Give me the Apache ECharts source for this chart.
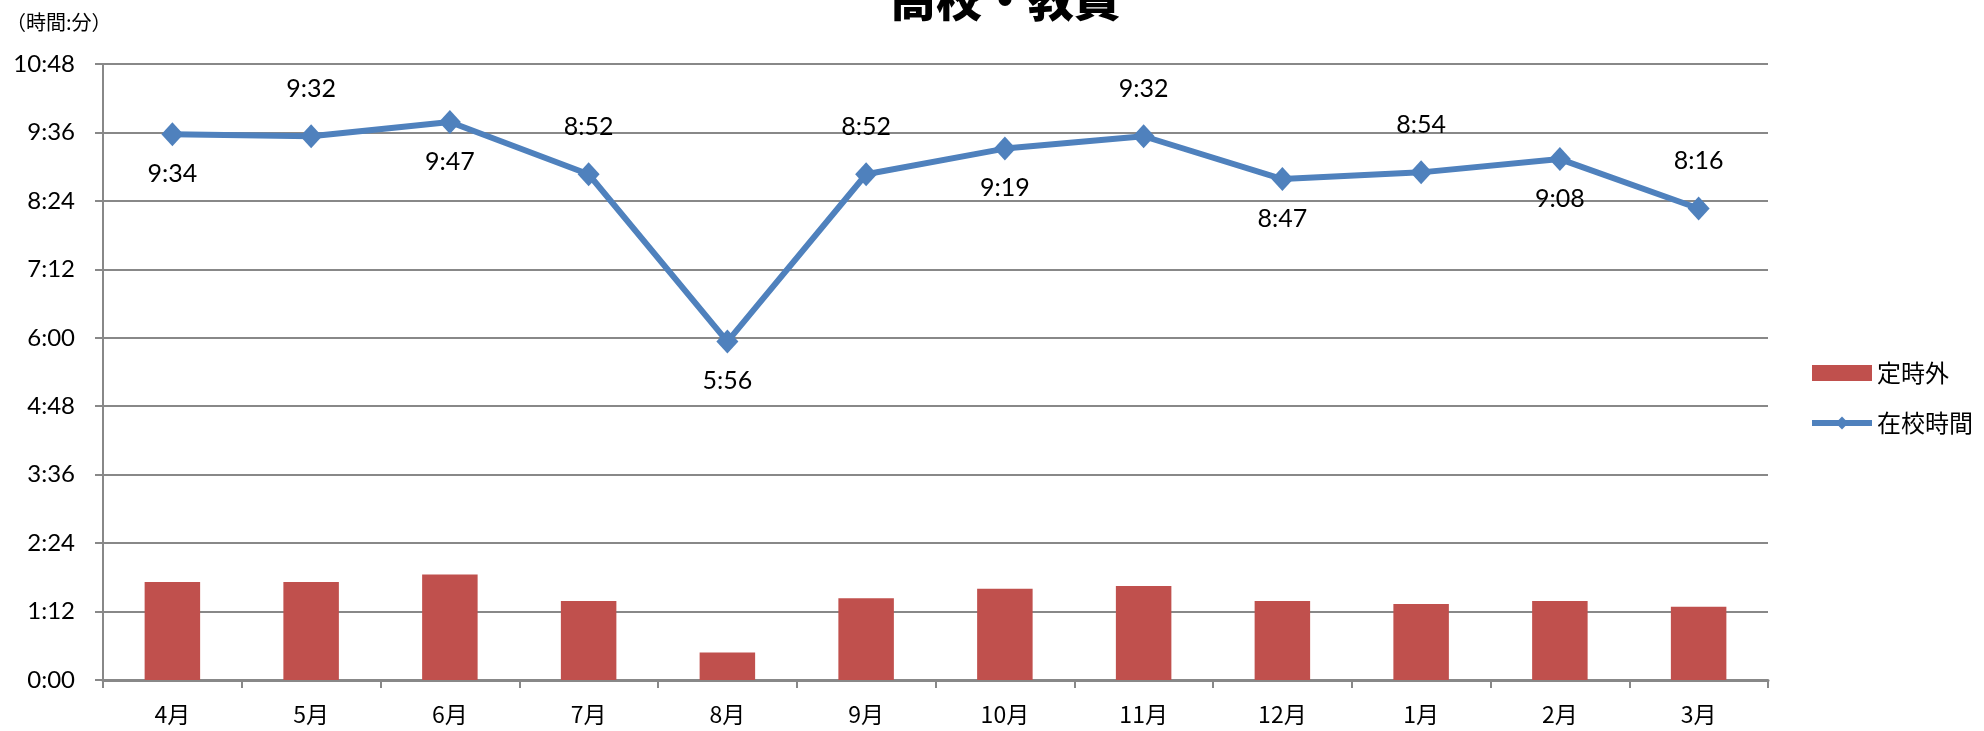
<!DOCTYPE html>
<html>
<head>
<meta charset="utf-8">
<script src="https://cdn.jsdelivr.net/npm/echarts@6/dist/echarts.min.js"></script>
<style>
  html, body { margin: 0; padding: 0; background: #fff; }
  #chart { width: 1984px; height: 731px; }
</style>
</head>
<body>
<div id="chart"></div>
<script>
// Months of the school year
const months = ['4月', '5月', '6月', '7月', '8月', '9月', '10月', '11月', '12月', '1月', '2月', '3月'];
// Overtime per day (H:MM)
const overtime = ['1:43', '1:43', '1:51', '1:23', '0:29', '1:26', '1:36', '1:39', '1:23', '1:20', '1:23', '1:17'];
// Time spent at school per day (H:MM)
const atSchool = ['9:34', '9:32', '9:47', '8:52', '5:56', '8:52', '9:19', '9:32', '8:47', '8:54', '9:08', '8:16'];
// Where each at-school label sits relative to its point
const labelSide = ['bottom', 'top', 'bottom', 'top', 'bottom', 'top', 'bottom', 'top', 'bottom', 'top', 'bottom', 'top'];
// Axis range in minutes
const yMax = 648;
const yStep = 72;

const toMin = s => { const [h, m] = s.split(':').map(Number); return h * 60 + m; };
const fmt = v => { const h = Math.floor(v / 60); const m = Math.round(v % 60); return h + ':' + String(m).padStart(2, '0'); };

const font = "Lato, 'Noto Sans CJK JP', sans-serif";
const blue = '#4F81BD';
const red = '#C0504D';
const chart = echarts.init(document.getElementById('chart'));
chart.setOption({
  animation: false,
  textStyle: { fontFamily: font },
  title: {
    text: '高校・教員',
    left: 1000, top: -29,
    textAlign: 'center',
    textStyle: { fontFamily: "'Noto Sans CJK JP'", fontSize: 46, fontWeight: 900, color: '#000' }
  },
  graphic: [{
    type: 'text', left: 6, top: 12,
    style: { text: '（時間:分）', fontFamily: "'Noto Sans CJK JP'", fontSize: 20, fill: '#000' }
  }],
  legend: {
    orient: 'vertical',
    left: 1804, top: 356,
    itemGap: 26,
    itemWidth: 60, itemHeight: 16,
    textStyle: { fontFamily: "'Noto Sans CJK JP'", fontSize: 24, color: '#000' },
    data: [
      { name: '定時外', icon: 'rect' },
      { name: '在校時間', itemStyle: { color: blue }, lineStyle: { width: 6, color: blue } }
    ]
  },
  grid: { left: 103, right: 216, top: 64, bottom: 51 },
  xAxis: {
    type: 'category',
    data: months,
    boundaryGap: true,
    axisLine: { lineStyle: { color: '#888', width: 3 } },
    axisTick: { show: true, length: 8, lineStyle: { color: '#888', width: 2 } },
    axisLabel: { color: '#000', fontSize: 23, margin: 23, fontFamily: "'Noto Sans CJK JP'" }
  },
  yAxis: {
    type: 'value',
    min: 0, max: yMax, interval: yStep,
    axisLine: { show: true, lineStyle: { color: '#888', width: 2 } },
    axisTick: { show: true, length: 8, lineStyle: { color: '#888', width: 2 } },
    splitLine: { lineStyle: { color: '#888', width: 2 } },
    axisLabel: { color: '#000', fontSize: 24, margin: 28, formatter: v => fmt(v) }
  },
  series: [
    {
      name: '定時外',
      type: 'bar',
      data: overtime.map(toMin),
      barWidth: '40%',
      itemStyle: { color: red }
    },
    {
      name: '在校時間',
      type: 'line',
      data: atSchool.map((t, i) => ({
        value: toMin(t),
        label: { position: labelSide[i], distance: labelSide[i] === 'top' ? 23 : 15 }
      })),
      symbol: 'diamond',
      symbolSize: [22, 24],
      lineStyle: { color: blue, width: 6 },
      itemStyle: { color: blue },
      label: {
        show: true,
        color: '#000',
        fontSize: 25,
        formatter: p => fmt(p.value)
      },
      z: 3
    }
  ]
});
</script>
</body>
</html>
